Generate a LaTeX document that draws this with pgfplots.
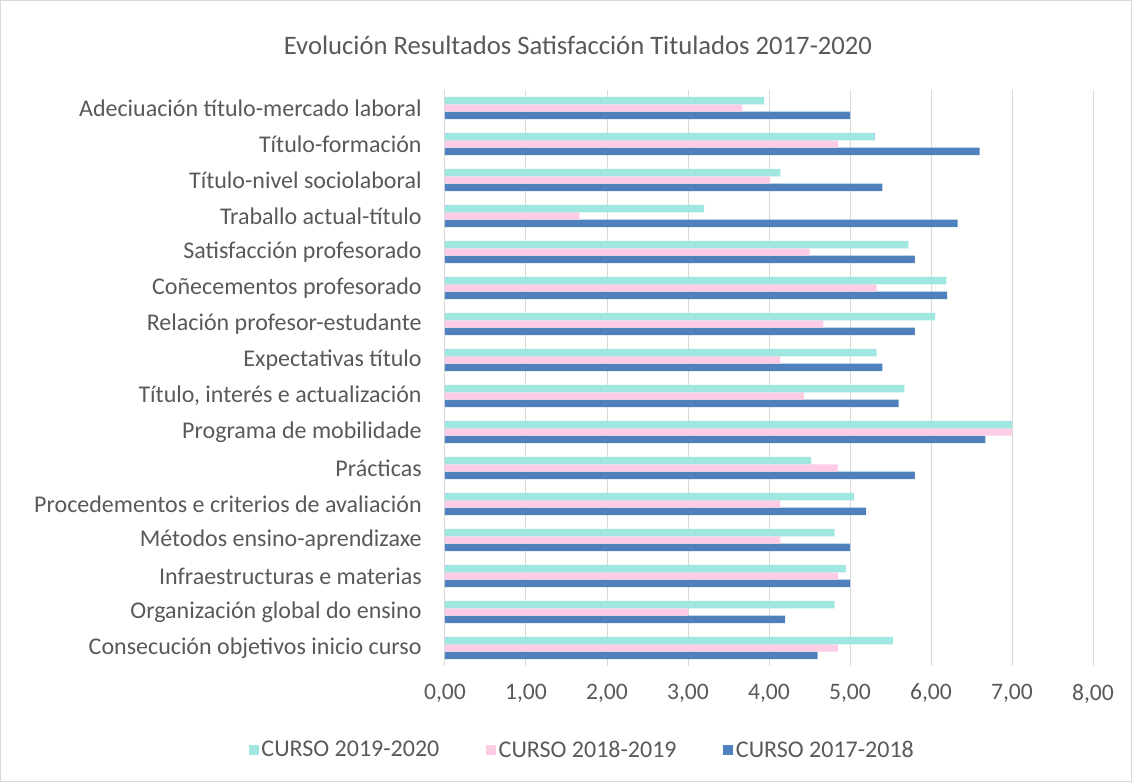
\documentclass[border=0pt]{standalone}
\usepackage{fontspec}
\setmainfont{Carlito}
\usepackage{pgfplots}
\pgfplotsset{compat=1.18}
\definecolor{tealc}{HTML}{A0E6E1}
\definecolor{pinkc}{HTML}{FFCCE6}
\definecolor{bluec}{HTML}{4F81BD}
\definecolor{txt}{HTML}{595959}
\definecolor{gridc}{HTML}{D9D9D9}

\begin{document}
\begin{tikzpicture}
% chart frame, 1132x782 px at 0.75pt/px
\useasboundingbox (0,0) rectangle (849pt,586.5pt);
\draw[gridc,line width=0.75pt] (0.4pt,0.4pt) rectangle (848.6pt,586.1pt);
\node[txt,font=\fontsize{20}{22}\selectfont] at (433.5pt,552.75pt)
  {Evolución Resultados Satisfacción Titulados 2017-2020};
\begin{axis}[
  at={(333.75pt,87pt)}, anchor=south west,
  scale only axis, width=486pt, height=432pt,
  xbar, bar width=5.6pt,
  xmin=0, xmax=8, xtick={0,1,...,8},
  ymin=-0.5, ymax=15.5, ytick={0,...,15},
  yticklabels={Consecución objetivos inicio curso,
    Organización global do ensino\hspace{4pt},
    Infraestructuras e materias,
    Métodos ensino-aprendizaxe,
    Procedementos e criterios de avaliación,
    Prácticas,
    Programa de mobilidade,
    {Título, interés e actualización\hspace{4pt}},
    Expectativas título,
    Relación profesor-estudante\hspace{4pt},
    Coñecementos profesorado,
    Satisfacción profesorado,
    Traballo actual-título,
    Título-nivel sociolaboral,
    Título-formación\hspace{4pt},
    Adeciuación título-mercado laboral},
  xmajorgrids, grid style={gridc,line width=0.75pt},
  axis lines*=left,
  x axis line style={draw=none},
  y axis line style={gridc,line width=0.75pt,-},
  major tick length=0pt,
  tick label style={txt,font=\fontsize{17.7}{19}\selectfont},
  yticklabel style={xshift=-14pt,font=\fontsize{18}{20}\selectfont},
  xticklabel style={yshift=-10pt},
  /pgf/number format/.cd, fixed, fixed zerofill, precision=2, use comma, assume math mode=true,
  /pgfplots/.cd,
  legend style={draw=none,fill=none,at={(0.2125,-0.1458)},anchor=center,
    font=\fontsize{18}{20}\selectfont,text=txt,
    /tikz/every even column/.append style={column sep=33pt}},
  legend columns=3, reverse legend,
  legend image code/.code={\fill[#1] (0pt,-4pt) rectangle (7.5pt,4pt);},
]
% CURSO 2017-2018
\addplot[fill=bluec,draw=none,bar shift=-5.6pt] coordinates {
  (4.60,0) (4.20,1) (5.00,2) (5.00,3) (5.20,4) (5.80,5) (6.67,6) (5.60,7)
  (5.40,8) (5.80,9) (6.20,10) (5.80,11) (6.33,12) (5.40,13) (6.60,14) (5.00,15)};
\addlegendentry{CURSO 2017-2018}
% CURSO 2018-2019
\addplot[fill=pinkc,draw=none,bar shift=0pt] coordinates {
  (4.85,0) (3.00,1) (4.85,2) (4.14,3) (4.14,4) (4.85,5) (7.00,6) (4.43,7)
  (4.14,8) (4.67,9) (5.33,10) (4.50,11) (1.66,12) (4.01,13) (4.85,14) (3.67,15)};
\addlegendentry{CURSO 2018-2019}
% CURSO 2019-2020
\addplot[fill=tealc,draw=none,bar shift=5.6pt] coordinates {
  (5.53,0) (4.81,1) (4.95,2) (4.81,3) (5.05,4) (4.52,5) (7.00,6) (5.67,7)
  (5.33,8) (6.05,9) (6.19,10) (5.72,11) (3.20,12) (4.14,13) (5.31,14) (3.94,15)};
\addlegendentry{CURSO 2019-2020}
\end{axis}
\end{tikzpicture}
\end{document}
